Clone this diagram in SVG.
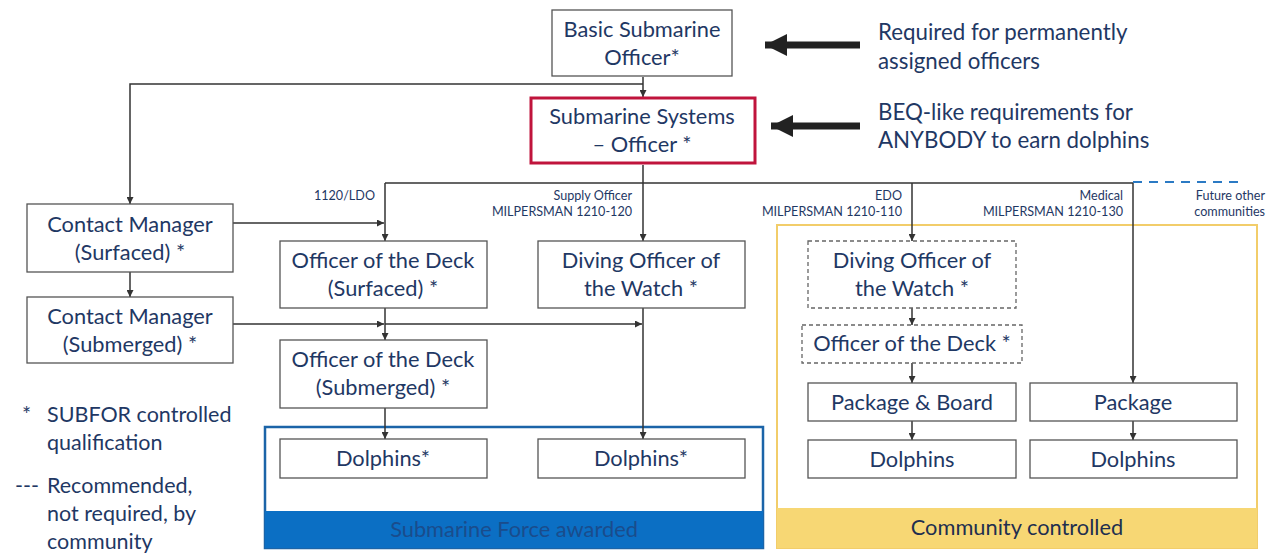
<svg xmlns="http://www.w3.org/2000/svg" width="1276" height="554" viewBox="0 0 1276 554">
<defs>
<marker id="ah" viewBox="0 0 10 10" refX="10" refY="5" markerWidth="7" markerHeight="7" orient="auto" markerUnits="userSpaceOnUse"><path d="M0,0 L10,5 L0,10 z" fill="#333"/></marker>
<marker id="big" viewBox="0 0 10 10" refX="10" refY="5" markerWidth="24" markerHeight="22" orient="auto" markerUnits="userSpaceOnUse"><path d="M0,0 L10,5 L0,10 z" fill="#222"/></marker>
</defs>
<style>
.box{fill:#fff;stroke:#555;stroke-width:1.3}
.dash{fill:#fff;stroke:#666;stroke-width:1.3;stroke-dasharray:4 3}
.t{font-family:Lato,"Liberation Sans",sans-serif;font-size:21.8px;fill:#1f3864;text-anchor:middle}
.s{font-family:Lato,"Liberation Sans",sans-serif;font-size:12.6px;fill:#1f3864;text-anchor:end}
.n{font-family:Lato,"Liberation Sans",sans-serif;font-size:21.5px;fill:#1f3864}
.r{font-family:Lato,"Liberation Sans",sans-serif;font-size:22.3px;fill:#1f3864}
.c{fill:none;stroke:#333;stroke-width:1.5}
</style>
<rect width="1276" height="554" fill="#fff"/>

<g id="regions">
<rect x="265" y="427" width="498" height="121" fill="#fff" stroke="#1b64a8" stroke-width="2.5"/>
<rect x="265" y="511" width="498" height="37" fill="#0b6fc4"/>
<text x="514" y="537" class="t" style="fill:#1a4c8c">Submarine Force awarded</text>
<rect x="777" y="225" width="480" height="323" fill="#fff" stroke="#f2cd6a" stroke-width="2"/>
<rect x="777" y="508" width="480" height="40" fill="#f7d774"/>
<text x="1017" y="535" class="t" style="fill:#1f2f4f">Community controlled</text>
</g>

<g id="connectors">
<path class="c" d="M643,77 V97" marker-end="url(#ah)"/>
<path class="c" d="M643,84 H130 V204" marker-end="url(#ah)"/>
<path class="c" d="M643,165 V183 M385,183 H1133"/>
<path class="c" d="M1133,182 H1240" style="stroke:#2b7ac4;stroke-width:2;stroke-dasharray:9 7"/>
<path class="c" d="M385,183 V241" marker-end="url(#ah)"/>
<path class="c" d="M643,183 V241" marker-end="url(#ah)"/>
<path class="c" d="M912,183 V241" marker-end="url(#ah)"/>
<path class="c" d="M1133,183 V383" marker-end="url(#ah)"/>
<path class="c" d="M130,272 V297" marker-end="url(#ah)"/>
<path class="c" d="M233,223 H384" marker-end="url(#ah)"/>
<path class="c" d="M233,324 H384" marker-end="url(#ah)"/>
<path class="c" d="M385,324 H642" marker-end="url(#ah)"/>
<path class="c" d="M385,308 V340" marker-end="url(#ah)"/>
<path class="c" d="M385,408 V439" marker-end="url(#ah)"/>
<path class="c" d="M643,308 V439" marker-end="url(#ah)"/>
<path class="c" d="M912,308 V325" marker-end="url(#ah)"/>
<path class="c" d="M912,363 V383" marker-end="url(#ah)"/>
<path class="c" d="M912,421 V440" marker-end="url(#ah)"/>
<path class="c" d="M1133,421 V440" marker-end="url(#ah)"/>
<path d="M860,45 H765" stroke="#222" stroke-width="7" fill="none" marker-end="url(#big)"/>
<path d="M860,126 H771" stroke="#222" stroke-width="7" fill="none" marker-end="url(#big)"/>
</g>

<g id="branch-labels">
<text x="375" y="200" class="s">1120/LDO</text>
<text x="632" y="200" class="s">Supply Officer</text>
<text x="632" y="216" class="s">MILPERSMAN 1210-120</text>
<text x="902" y="200" class="s">EDO</text>
<text x="902" y="216" class="s">MILPERSMAN 1210-110</text>
<text x="1123" y="200" class="s">Medical</text>
<text x="1123" y="216" class="s">MILPERSMAN 1210-130</text>
<text x="1265" y="200" class="s">Future other</text>
<text x="1265" y="216" class="s">communities</text>
</g>

<g id="basic"><rect class="box" x="552" y="10" width="180" height="66"/><text class="t" x="642" y="37">Basic Submarine</text><text class="t" x="642" y="65">Officer*</text></g>
<g id="sso"><rect x="531" y="98" width="224" height="65" fill="#fff" stroke="#c0143c" stroke-width="3"/><text class="t" x="642" y="124">Submarine Systems</text><text class="t" x="642" y="152">– Officer *</text></g>

<g id="cm-surf"><rect class="box" x="27" y="204" width="206" height="68"/><text class="t" x="130" y="232">Contact Manager</text><text class="t" x="130" y="260">(Surfaced) *</text></g>
<g id="cm-sub"><rect class="box" x="27" y="297" width="206" height="66"/><text class="t" x="130" y="324">Contact Manager</text><text class="t" x="130" y="352">(Submerged) *</text></g>
<g id="ood-surf"><rect class="box" x="280" y="241" width="207" height="67"/><text class="t" x="383" y="268">Officer of the Deck</text><text class="t" x="383" y="296">(Surfaced) *</text></g>
<g id="doow"><rect class="box" x="538" y="241" width="207" height="67"/><text class="t" x="641" y="268">Diving Officer of</text><text class="t" x="641" y="296">the Watch *</text></g>
<g id="ood-sub"><rect class="box" x="280" y="340" width="207" height="68"/><text class="t" x="383" y="367">Officer of the Deck</text><text class="t" x="383" y="395">(Submerged) *</text></g>
<g id="dolphins-1"><rect class="box" x="280" y="439" width="207" height="39"/><text class="t" x="383" y="466">Dolphins*</text></g>
<g id="dolphins-2"><rect class="box" x="538" y="439" width="207" height="39"/><text class="t" x="641" y="466">Dolphins*</text></g>

<g id="edo-doow"><rect class="dash" x="808" y="241" width="208" height="67"/><text class="t" x="912" y="268">Diving Officer of</text><text class="t" x="912" y="296">the Watch *</text></g>
<g id="edo-ood"><rect class="dash" x="802" y="325" width="220" height="38"/><text class="t" x="912" y="351">Officer of the Deck *</text></g>
<g id="pkg-board"><rect class="box" x="808" y="383" width="208" height="38"/><text class="t" x="912" y="410">Package &amp; Board</text></g>
<g id="pkg"><rect class="box" x="1030" y="383" width="207" height="38"/><text class="t" x="1133" y="410">Package</text></g>
<g id="dolphins-3"><rect class="box" x="808" y="440" width="208" height="38"/><text class="t" x="912" y="467">Dolphins</text></g>
<g id="dolphins-4"><rect class="box" x="1030" y="440" width="207" height="38"/><text class="t" x="1133" y="467">Dolphins</text></g>

<g id="notes">
<text class="r" x="878" y="40">Required for permanently</text>
<text class="r" x="878" y="69">assigned officers</text>
<text class="r" x="878" y="120">BEQ-like requirements for</text>
<text class="r" x="878" y="148">ANYBODY to earn dolphins</text>
</g>

<g id="legend">
<text class="n" x="22" y="422">*</text>
<text class="n" x="47" y="422">SUBFOR controlled</text>
<text class="n" x="47" y="450">qualification</text>
<text class="n" x="15" y="493">---</text>
<text class="n" x="47" y="493">Recommended,</text>
<text class="n" x="47" y="521">not required, by</text>
<text class="n" x="47" y="549">community</text>
</g>
</svg>
